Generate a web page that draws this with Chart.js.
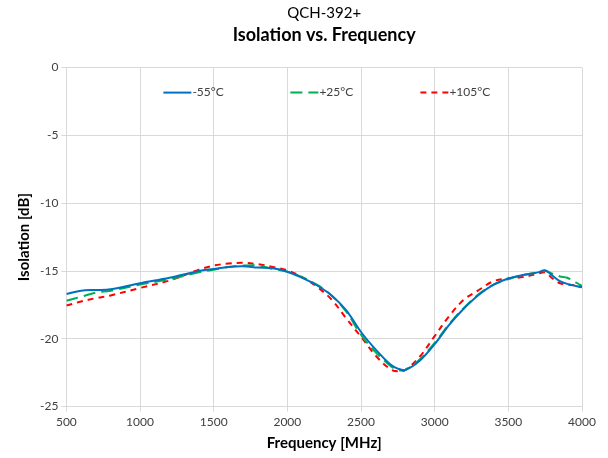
<!DOCTYPE html>
<html>
<head>
<meta charset="utf-8">
<script src="https://cdn.jsdelivr.net/npm/chart.js@4.4.1/dist/chart.umd.min.js"></script>
<style>
  html, body { margin: 0; padding: 0; background: #fff; }
  #wrap { width: 608px; height: 458px; }
</style>
</head>
<body>
<div id="wrap"><canvas id="myChart"></canvas></div>
<script>
const freqMHz = [500, 600, 700, 800, 1000, 1200, 1400, 1500, 1600, 1700, 1800, 1900, 2000, 2100, 2200, 2300, 2400, 2500, 2600, 2700, 2750, 2800, 2900, 3000, 3100, 3200, 3300, 3400, 3500, 3600, 3700, 3750, 3800, 3850, 3900, 4000];
const isoMinus55 = [-16.7, -16.45, -16.4, -16.35, -15.9, -15.5, -15.0, -14.85, -14.7, -14.65, -14.75, -14.8, -15.05, -15.5, -16.05, -16.8, -17.9, -19.5, -20.8, -21.9, -22.2, -22.3, -21.6, -20.4, -18.95, -17.75, -16.75, -16.0, -15.55, -15.3, -15.1, -14.95, -15.35, -15.75, -15.95, -16.2];
const isoPlus25 = [-17.2, -16.9, -16.6, -16.45, -16.0, -15.6, -15.1, -14.9, -14.7, -14.6, -14.6, -14.85, -15.05, -15.45, -16.0, -16.8, -18.0, -19.7, -21.0, -22.0, -22.3, -22.3, -21.5, -20.3, -18.9, -17.7, -16.7, -16.0, -15.6, -15.3, -15.1, -15.0, -15.2, -15.4, -15.5, -16.1];
const isoPlus105 = [-17.55, -17.25, -17.0, -16.8, -16.25, -15.7, -14.9, -14.6, -14.45, -14.4, -14.5, -14.7, -14.95, -15.45, -16.15, -17.1, -18.5, -19.85, -21.25, -22.25, -22.4, -22.3, -21.3, -19.8, -18.3, -17.1, -16.4, -15.75, -15.55, -15.45, -15.2, -15.1, -15.55, -15.9, -16.0, -16.1];
const seriesLabels = ['-55°C', '+25°C', '+105°C'];

const font = 'Lato, "Open Sans", sans-serif';
const toPoints = vals => freqMHz.map((f, i) => ({ x: f, y: vals[i] }));

function line(label, vals, color, dash) {
    return {
        label: label,
        data: toPoints(vals),
        borderColor: color,
        backgroundColor: color,
        borderWidth: 2,
        borderDash: dash,
        pointRadius: 0,
        fill: false,
        tension: 0.35
    };
}

// legend drawn inside the plot, spread across the top like the Excel one
const insideLegend = {
    id: 'insideLegend',
    afterDatasetsDraw(chart) {
        const c = chart.ctx;
        const area = chart.chartArea;
        const y = area.top + 25;
        const starts = [97, 224, 354];
        c.save();
        c.font = '12px ' + font;
        c.textBaseline = 'middle';
        chart.data.datasets.forEach((ds, i) => {
            const x = area.left + starts[i];
            c.strokeStyle = ds.borderColor;
            c.lineWidth = 2;
            c.setLineDash(ds.borderDash);
            c.beginPath();
            c.moveTo(x, y);
            c.lineTo(x + 28, y);
            c.stroke();
            c.setLineDash([]);
            c.fillStyle = '#404040';
            c.fillText(ds.label, x + 29, y);
        });
        c.restore();
    }
};

const ctx = document.getElementById('myChart');
let myChart = new Chart(ctx, {
    type: 'line',
    data: {
        datasets: [
            line(seriesLabels[0], isoMinus55, '#0070C0', []),
            line(seriesLabels[1], isoPlus25, '#00B050', [12, 6]),
            line(seriesLabels[2], isoPlus105, '#FF0000', [6, 5])
        ]
    },
    plugins: [insideLegend],
    options: {
        responsive: true,
        maintainAspectRatio: false,
        animation: false,
        layout: { padding: { left: 11, right: 26, top: 0, bottom: 6 } },
        plugins: {
            title: {
                display: true,
                fullSize: false,
                text: 'QCH-392+',
                color: '#000',
                font: { family: font, size: 15, weight: 'normal' },
                padding: { top: 4, bottom: 2 }
            },
            subtitle: {
                display: true,
                fullSize: false,
                text: 'Isolation vs. Frequency',
                color: '#000',
                font: { family: font, size: 18, weight: 'bold' },
                padding: { top: 0, bottom: 22 }
            },
            legend: { display: false },
            tooltip: { enabled: false }
        },
        scales: {
            x: {
                type: 'linear',
                min: 500,
                max: 4000,
                ticks: {
                    stepSize: 500,
                    color: '#404040',
                    font: { family: font, size: 12 },
                    callback: v => String(v)
                },
                grid: { color: '#d9d9d9', tickLength: 5 },
                border: { color: '#d9d9d9' },
                title: {
                    display: true,
                    text: 'Frequency [MHz]',
                    color: '#000',
                    font: { family: font, size: 15, weight: 'bold' },
                    padding: { top: 2, bottom: 0 }
                }
            },
            y: {
                min: -25,
                max: 0,
                ticks: { stepSize: 5, color: '#404040', font: { family: font, size: 12 } },
                grid: { color: '#d9d9d9', tickLength: 5 },
                border: { color: '#d9d9d9' },
                title: {
                    display: true,
                    text: 'Isolation [dB]',
                    color: '#000',
                    font: { family: font, size: 15, weight: 'bold' }
                }
            }
        }
    }
});
</script>
</body>
</html>
